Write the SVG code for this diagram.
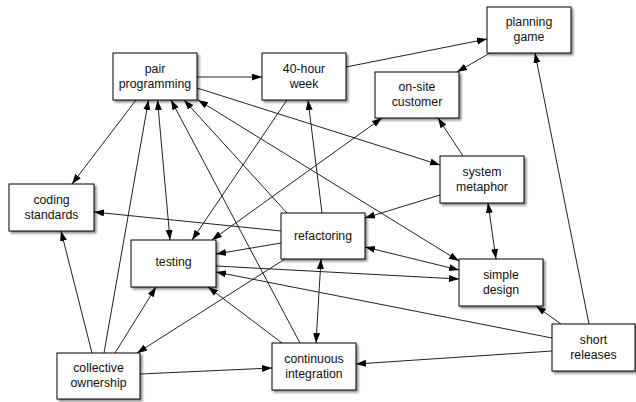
<svg xmlns="http://www.w3.org/2000/svg" width="636" height="402" viewBox="0 0 636 402">
<style>
.n rect{fill:#fff;stroke:#000;stroke-width:1;filter:url(#sh)}
.n text{font-family:"Liberation Sans",Arial,sans-serif;font-size:12.3px;fill:#111;text-anchor:middle}
#edges path{fill:none;stroke:#222;stroke-width:1;marker-end:url(#ah)}
#edges path.bi{marker-start:url(#ah)}
</style>
<defs>
<filter id="sh" x="-10%" y="-10%" width="130%" height="140%">
<feDropShadow dx="2" dy="2" stdDeviation="1.3" flood-color="#000" flood-opacity="0.45"/>
</filter>
<marker id="ah" markerUnits="userSpaceOnUse" markerWidth="11" markerHeight="8" refX="10" refY="3.5" orient="auto-start-reverse">
<path d="M0,0 L10,3.5 L0,7 z" fill="#000"/>
</marker>
</defs>
<rect width="636" height="402" fill="#fff"/>
<g id="edges">
<path d="M197,77 L262,77"/>
<path d="M346,67 L487,39"/>
<path d="M490,53 L457,72"/>
<path d="M136,100 L72,184"/>
<path d="M104,353 L148.5,100"/>
<path class="bi" d="M157.5,100 L170,240"/>
<path d="M300,343 L171,100"/>
<path d="M287,213 L184,100"/>
<path class="bi" d="M198,100 L459,261"/>
<path d="M197,88 L440,165"/>
<path d="M287,100 L192,240"/>
<path d="M322,213 L308,100"/>
<path class="bi" d="M212,240 L382,118"/>
<path d="M463,156 L438,118"/>
<path d="M440,195 L365,218"/>
<path class="bi" d="M365,247 L459,270"/>
<path d="M216,266 L459,279"/>
<path d="M281,243 L216,254"/>
<path d="M281,231 L94,212"/>
<path d="M285,259 L137,353"/>
<path class="bi" d="M321,259 L316,343"/>
<path d="M282,343 L208,287"/>
<path d="M115,353 L156,287"/>
<path d="M92,353 L61,231"/>
<path d="M140,374 L272,368"/>
<path d="M552,351 L356,364"/>
<path d="M552,338 L216,272"/>
<path d="M561,324 L536,306"/>
<path d="M589,324 L535,53"/>
<path class="bi" d="M488,203 L496,259"/>
</g>
<g id="pair-programming" class="n"><rect x="113" y="53" width="84" height="47"/><text x="155" y="73">pair</text><text x="155" y="88">programming</text></g>
<g id="forty-hour-week" class="n"><rect x="262" y="53" width="84" height="47"/><text x="304" y="73">40-hour</text><text x="304" y="88">week</text></g>
<g id="planning-game" class="n"><rect x="487" y="7" width="84" height="46"/><text x="529" y="26">planning</text><text x="529" y="41">game</text></g>
<g id="on-site-customer" class="n"><rect x="375" y="72" width="84" height="46"/><text x="417" y="91">on-site</text><text x="417" y="106">customer</text></g>
<g id="system-metaphor" class="n"><rect x="440" y="156" width="84" height="47"/><text x="482" y="176">system</text><text x="482" y="191">metaphor</text></g>
<g id="coding-standards" class="n"><rect x="9" y="184" width="85" height="47"/><text x="51.5" y="204">coding</text><text x="51.5" y="219">standards</text></g>
<g id="testing" class="n"><rect x="131" y="240" width="85" height="47"/><text x="173.5" y="266">testing</text></g>
<g id="refactoring" class="n"><rect x="281" y="213" width="84" height="46"/><text x="323" y="240">refactoring</text></g>
<g id="simple-design" class="n"><rect x="459" y="259" width="84" height="47"/><text x="501" y="279">simple</text><text x="501" y="294">design</text></g>
<g id="collective-ownership" class="n"><rect x="57" y="353" width="83" height="46"/><text x="98.5" y="372">collective</text><text x="98.5" y="387">ownership</text></g>
<g id="continuous-integration" class="n"><rect x="272" y="343" width="84" height="47"/><text x="314" y="363">continuous</text><text x="314" y="378">integration</text></g>
<g id="short-releases" class="n"><rect x="552" y="324" width="83" height="47"/><text x="593.5" y="344">short</text><text x="593.5" y="359">releases</text></g>
</svg>
